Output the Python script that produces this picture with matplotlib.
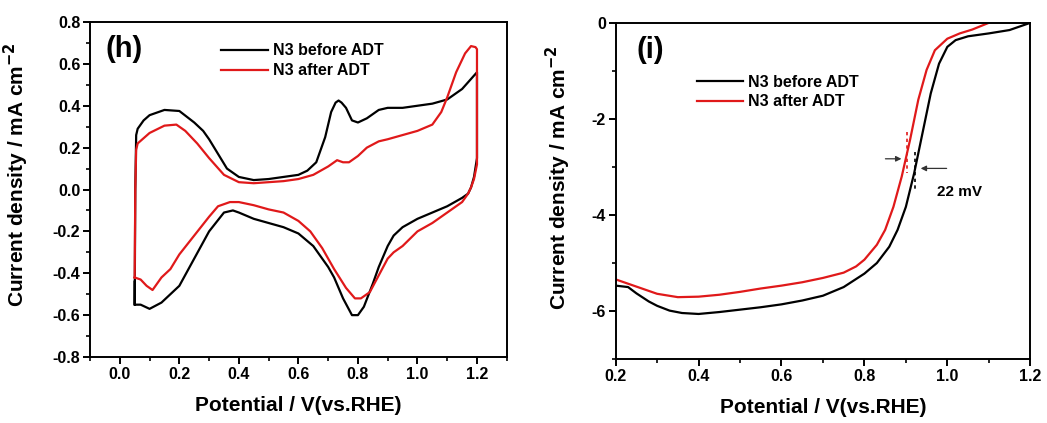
import matplotlib
matplotlib.use("Agg")
import matplotlib.pyplot as plt
from matplotlib.ticker import MultipleLocator, FormatStrFormatter

plt.rcParams['font.family'] = ['Liberation Sans', 'DejaVu Sans']
plt.rcParams['font.weight'] = 'bold'
plt.rcParams['axes.unicode_minus'] = False

# --- CV loops (h): potential / V, current density / mA cm-2 ---
cv_before_x = [0.05, 0.052, 0.055, 0.06, 0.08, 0.10, 0.15, 0.20, 0.25, 0.28, 0.30, 0.33, 0.36,
               0.40, 0.45, 0.50, 0.55, 0.60, 0.63, 0.66, 0.69, 0.71, 0.725, 0.735, 0.745, 0.76, 0.78, 0.80,
               0.83, 0.87, 0.90, 0.95, 1.00, 1.05, 1.10, 1.15, 1.20,
               1.20, 1.19, 1.18, 1.17, 1.15, 1.10, 1.05, 1.00, 0.95, 0.92, 0.90, 0.87, 0.85,
               0.82, 0.80, 0.78, 0.75, 0.72, 0.70, 0.65, 0.60, 0.55, 0.50, 0.45, 0.40, 0.38,
               0.35, 0.30, 0.25, 0.20, 0.17, 0.14, 0.10, 0.07, 0.05, 0.05]
cv_before_y = [-0.55, 0.00, 0.26, 0.29, 0.33, 0.355, 0.38, 0.375, 0.32, 0.28, 0.24, 0.17, 0.10,
               0.06, 0.045, 0.05, 0.06, 0.07, 0.09, 0.13, 0.25, 0.37, 0.415, 0.425, 0.415, 0.39, 0.33, 0.32,
               0.34, 0.38, 0.39, 0.39, 0.40, 0.41, 0.43, 0.48, 0.56,
               0.15, 0.06, 0.01, -0.02, -0.04, -0.08, -0.11, -0.14, -0.18, -0.22, -0.27, -0.37, -0.45,
               -0.56, -0.60, -0.60, -0.52, -0.42, -0.37, -0.27, -0.21, -0.18, -0.16, -0.14, -0.11, -0.10,
               -0.11, -0.20, -0.33, -0.46, -0.50, -0.54, -0.57, -0.55, -0.55, -0.44]

cv_after_x = [0.05, 0.052, 0.055, 0.06, 0.10, 0.15, 0.19, 0.22, 0.26, 0.30, 0.35, 0.40, 0.45,
              0.50, 0.55, 0.60, 0.65, 0.70, 0.73, 0.75, 0.77, 0.80, 0.83, 0.87, 0.90, 0.95,
              1.00, 1.05, 1.08, 1.10, 1.13, 1.16, 1.18, 1.195, 1.20,
              1.20, 1.19, 1.18, 1.17, 1.15, 1.10, 1.05, 1.00, 0.95, 0.92, 0.90, 0.87, 0.84,
              0.81, 0.79, 0.76, 0.72, 0.68, 0.64, 0.60, 0.55, 0.50, 0.45, 0.40, 0.37, 0.33,
              0.30, 0.25, 0.20, 0.17, 0.14, 0.11, 0.09, 0.07, 0.05, 0.05]
cv_after_y = [-0.42, 0.00, 0.19, 0.22, 0.27, 0.305, 0.31, 0.28, 0.22, 0.15, 0.07, 0.035, 0.03,
              0.035, 0.04, 0.05, 0.07, 0.11, 0.14, 0.13, 0.13, 0.16, 0.20, 0.23, 0.24, 0.26,
              0.28, 0.31, 0.37, 0.44, 0.56, 0.65, 0.685, 0.68, 0.67,
              0.12, 0.05, 0.01, -0.02, -0.06, -0.11, -0.16, -0.20, -0.27, -0.30, -0.33, -0.41, -0.49,
              -0.52, -0.52, -0.47, -0.38, -0.28, -0.20, -0.15, -0.11, -0.095, -0.075, -0.06, -0.06, -0.08,
              -0.13, -0.22, -0.31, -0.38, -0.42, -0.48, -0.46, -0.43, -0.42, -0.42]

# --- LSV polarization curves (i) ---
lsv_before_x = [0.20, 0.23, 0.25, 0.28, 0.30, 0.33, 0.36, 0.40, 0.45, 0.50, 0.55, 0.60, 0.65,
                0.70, 0.75, 0.80, 0.83, 0.86, 0.88, 0.90, 0.92, 0.94, 0.96, 0.98, 1.00, 1.02,
                1.05, 1.10, 1.15, 1.20]
lsv_before_y = [-5.47, -5.50, -5.63, -5.80, -5.89, -5.99, -6.04, -6.06, -6.02, -5.97, -5.92, -5.86, -5.78,
                -5.68, -5.50, -5.22, -5.00, -4.66, -4.31, -3.83, -3.13, -2.30, -1.47, -0.85, -0.50, -0.36,
                -0.28, -0.22, -0.15, 0.00]

lsv_after_x = [0.20, 0.25, 0.30, 0.35, 0.40, 0.45, 0.50, 0.55, 0.60, 0.65, 0.70, 0.75, 0.78,
               0.80, 0.83, 0.85, 0.87, 0.89, 0.91, 0.93, 0.95, 0.97, 1.00, 1.03, 1.06, 1.08, 1.10]
lsv_after_y = [-5.34, -5.49, -5.64, -5.71, -5.70, -5.66, -5.60, -5.53, -5.47, -5.40, -5.31, -5.20, -5.07,
               -4.93, -4.62, -4.31, -3.83, -3.20, -2.44, -1.60, -0.98, -0.57, -0.33, -0.22, -0.14, -0.07, 0.00]

labels = ['N3 before ADT', 'N3 after ADT']
colors = ['black', '#e0191a']

# half-wave potentials used for the shift marker
e_half_after = 0.902
e_half_before = 0.923
shift_text = '22 mV'

fig = plt.figure(figsize=(10.47, 4.23), dpi=100)
ax1 = fig.add_axes([0.086, 0.156, 0.398, 0.792])
ax2 = fig.add_axes([0.588, 0.151, 0.396, 0.795])

ax1.plot(cv_before_x, cv_before_y, color=colors[0], lw=1.6, label=labels[0])
ax1.plot(cv_after_x, cv_after_y, color=colors[1], lw=1.6, label=labels[1])
ax1.set_xlim(-0.1, 1.3)
ax1.set_ylim(-0.8, 0.8)
ax1.xaxis.set_major_locator(MultipleLocator(0.2))
ax1.xaxis.set_minor_locator(MultipleLocator(0.1))
ax1.yaxis.set_major_locator(MultipleLocator(0.2))
ax1.yaxis.set_minor_locator(MultipleLocator(0.1))
ax1.xaxis.set_major_formatter(FormatStrFormatter('%.1f'))
ax1.yaxis.set_major_formatter(FormatStrFormatter('%.1f'))
ax1.text(0.036, 0.96, '(h)', transform=ax1.transAxes, fontsize=21, fontweight='bold',
         va='top', ha='left')

ax2.plot(lsv_before_x, lsv_before_y, color=colors[0], lw=1.6, label=labels[0])
ax2.plot(lsv_after_x, lsv_after_y, color=colors[1], lw=1.6, label=labels[1])
ax2.set_xlim(0.2, 1.2)
ax2.set_ylim(-7, 0)
ax2.xaxis.set_major_locator(MultipleLocator(0.2))
ax2.xaxis.set_minor_locator(MultipleLocator(0.1))
ax2.yaxis.set_major_locator(MultipleLocator(2))
ax2.yaxis.set_minor_locator(MultipleLocator(1))
ax2.xaxis.set_major_formatter(FormatStrFormatter('%.1f'))
ax2.yaxis.set_major_formatter(FormatStrFormatter('%d'))
ax2.text(0.05, 0.96, '(i)', transform=ax2.transAxes, fontsize=21, fontweight='bold',
         va='top', ha='left')

# shift marker between the two curves
ax2.plot([e_half_after] * 2, [-2.27, -3.13], color=colors[1], lw=1.2, ls=(0, (2, 2)))
ax2.plot([e_half_before] * 2, [-2.68, -3.51], color=colors[0], lw=1.2, ls=(0, (2, 2)))
ax2.annotate('', xy=(e_half_after - 0.006, -2.83), xytext=(0.844, -2.83),
             arrowprops=dict(arrowstyle='-|>', color='#333333', lw=0.9, mutation_scale=8))
ax2.annotate('', xy=(e_half_before + 0.006, -3.03), xytext=(1.005, -3.03),
             arrowprops=dict(arrowstyle='-|>', color='#333333', lw=0.9, mutation_scale=8))
ax2.text(0.975, -3.52, shift_text, fontsize=11, fontweight='bold', va='center', ha='left')

for ax in (ax1, ax2):
    for s in ax.spines.values():
        s.set_linewidth(1.4)
    ax.tick_params(which='major', direction='out', length=5, width=1.4, labelsize=11.5, pad=2)
    ax.tick_params(which='minor', direction='out', length=3, width=1.2)
    ax.set_xlabel('Potential / V(vs.RHE)', fontsize=15, fontweight='bold', labelpad=10)
    ax.set_ylabel('Current density / mA cm$^{\\mathbf{-2}}$', fontsize=15, fontweight='bold')

ax1.yaxis.set_label_coords(-0.142, 0.543)
ax2.yaxis.set_label_coords(-0.102, 0.54)

ax1.legend(loc='upper left', bbox_to_anchor=(0.30, 0.955), frameon=False, fontsize=11.5,
           handlelength=2.9, handletextpad=0.3, labelspacing=0.3, borderaxespad=0)
ax2.legend(loc='upper left', bbox_to_anchor=(0.18, 0.865), frameon=False, fontsize=11.5,
           handlelength=2.9, handletextpad=0.3, labelspacing=0.3, borderaxespad=0)

fig.savefig('out.png', dpi=100)
